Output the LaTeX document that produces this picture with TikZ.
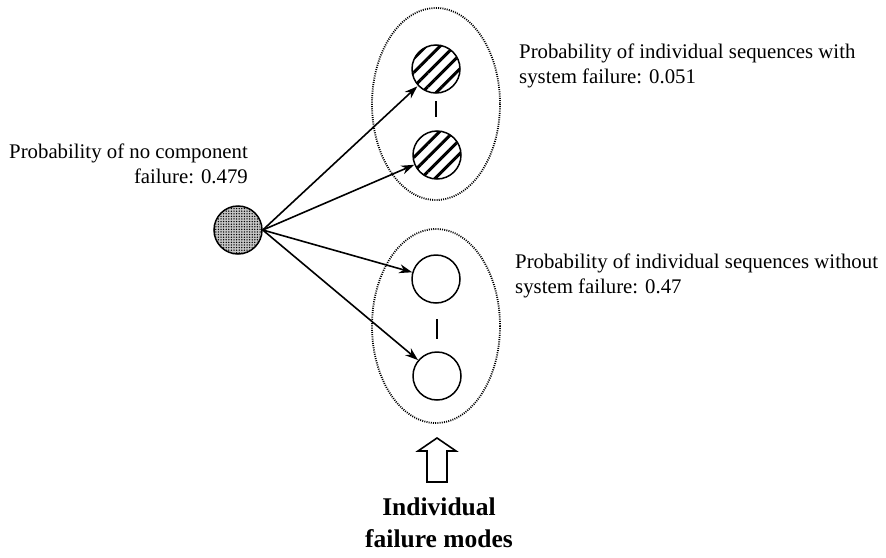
\documentclass[tikz,border=0pt]{standalone}
\usepackage{fontspec}
\setmainfont{Liberation Serif}
\usetikzlibrary{arrows.meta,patterns.meta}
\begin{document}
\begin{tikzpicture}[x=1pt,y=-1pt,
  state/.style={circle,draw=black,line width=1.5pt,minimum size=48pt,inner sep=0pt},
  fail/.style={state,pattern={Lines[angle=45,distance=10pt,line width=3pt]}},
  okstate/.style={state,fill=white},
  origin/.style={state,fill=gray!45},
  group/.style={draw=black,line width=1.8pt,dash pattern=on 1pt off 1.2pt},
  conn/.style={line width=1.6pt,-{Stealth[length=13pt,width=9pt]}},
  gap/.style={line width=2.4pt},
  lbl/.style={font=\fontsize{20.8}{25}\selectfont,inner sep=0pt,align=left},
  title/.style={font=\fontsize{25.5}{32}\selectfont\bfseries,inner sep=0pt,align=center}]
\useasboundingbox (0,0) rectangle (886,557);

% dotted groupings
\draw[group] (436,104) ellipse [x radius=64, y radius=96];
\draw[group] (436,326) ellipse [x radius=64, y radius=97];

% states
\node[origin] (o) at (238,230) {};
\node[pattern={Dots[distance=2.6pt,radius=0.75pt]},circle,minimum size=46pt,inner sep=0pt] at (238,230) {};
\node[fail] (f1) at (436,69) {};
\node[fail] (f2) at (437,155) {};
\node[okstate] (s1) at (436,279) {};
\node[okstate] (s2) at (437,376) {};

% ellipsis marks between the states
\coordinate (d1a) at (436,101); \coordinate (d1b) at (436,117);
\coordinate (d2a) at (437,319); \coordinate (d2b) at (437,339);
\draw[gap] (d1a) -- (d1b);
\draw[gap] (d2a) -- (d2b);

% transitions
\draw[conn] (o.east) -- (f1);
\draw[conn] (o.east) -- (f2);
\draw[conn] (o.east) -- (s1);
\draw[conn] (o.east) -- (s2);

% labels (base anchor sits on the last line)
\node[lbl,anchor=base east,align=right] (t0) at (248,183) {Probability of no component\\failure: 0.479};
\node[lbl,anchor=base west] (t1) at (519,83) {Probability of individual sequences with\\system failure: 0.051};
\node[lbl,anchor=base west] (t2) at (515,293) {Probability of individual sequences without\\system failure: 0.47};

% hollow pointer and caption
\draw[line width=1.6pt,line join=miter] (427,482) -- (427,451) -- (418,451) -- (437,438) -- (456,451) -- (447,451) -- (447,482) -- cycle;
\node[title,anchor=base] (cap) at (439,547) {Individual\\failure modes};
\end{tikzpicture}
\end{document}
